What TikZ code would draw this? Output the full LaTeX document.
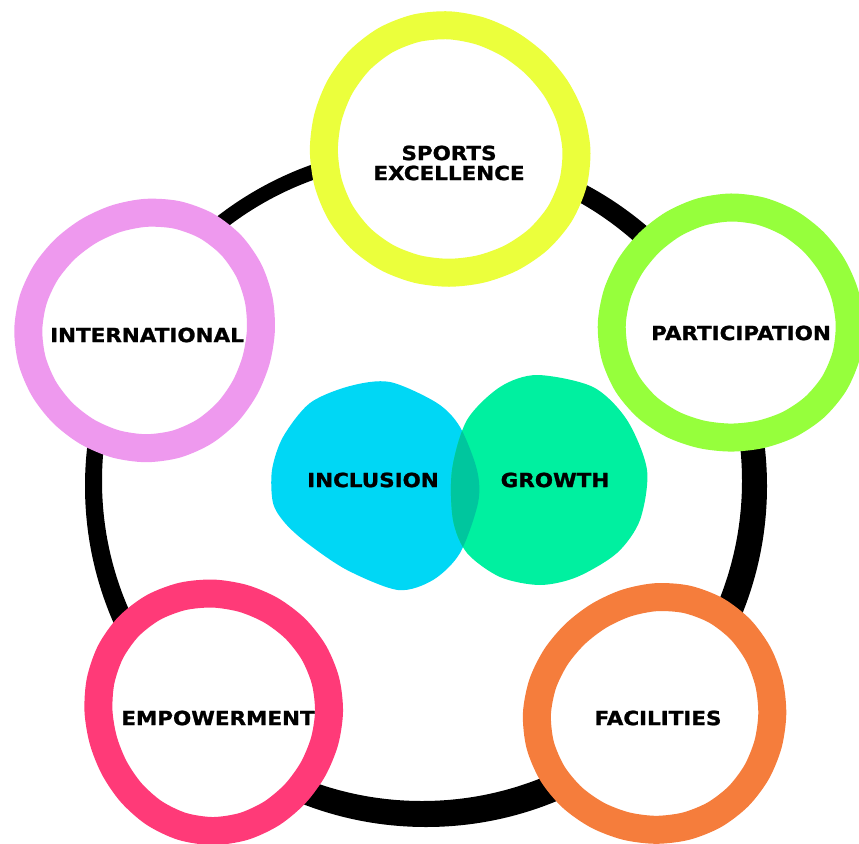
\documentclass[tikz,border=0pt]{standalone}
\usepackage{fontspec}
\setmainfont{DejaVu Sans}
\newfontfamily\labelfont[FakeStretch=1.1, FakeBold=1.2]{DejaVu Sans Bold}
\usepackage{tikz}
\usetikzlibrary{positioning, calc}
\definecolor{excel}{RGB}{235,255,60}
\definecolor{partic}{RGB}{150,255,60}
\definecolor{intl}{RGB}{238,153,238}
\definecolor{empow}{RGB}{255,58,120}
\definecolor{facil}{RGB}{245,125,60}
\definecolor{inclc}{RGB}{0,215,245}
\definecolor{growc}{RGB}{0,240,160}
\definecolor{overlap}{RGB}{0,198,158}
\tikzset{
  pillar/.style={draw=#1, line width=28pt, fill=white},
  label/.style={font=\labelfont\fontsize{19.5}{20}\selectfont, align=center, inner sep=0pt}
}
% wobbly ring: centre, radius, phase
\newcommand\wobblering[4]{%
  \draw[pillar=#4, shift={(#1)}] plot[smooth cycle, domain=0:345, samples=24, variable=\a]
    (\a:{#2+2*sin(2*\a+#3)+1.5*cos(3*\a-#3)});}
\begin{document}
\begin{tikzpicture}[x=1pt, y=-1pt]
  \useasboundingbox (0,0) rectangle (859,843);
  % outer ring
  \fill[black, even odd rule] (426,486) circle (341) (422,481) circle (320);

  \coordinate (sportsc) at (449,150);
  \coordinate (particc) at (731,324);
  \coordinate (intlc) at (146,330);
  \coordinate (empowc) at (213,711);
  \coordinate (facilc) at (656,714);

  \wobblering{sportsc}{125}{40}{excel}
  \wobblering{particc}{117}{100}{partic}
  \wobblering{intlc}{117}{200}{intl}
  \wobblering{empowc}{117}{300}{empow}
  \wobblering{facilc}{117}{160}{facil}

  \node[label] (sports) at ($(sportsc)+(0,13)$) {SPORTS\\EXCELLENCE};
  \node[label] (particip) at ($(particc)+(10,9)$) {PARTICIPATION};
  \node[label] (intl) at ($(intlc)+(1,5)$) {INTERNATIONAL};
  \node[label] (empow) at ($(empowc)+(5,7)$) {EMPOWERMENT};
  \node[label] (facil) at ($(facilc)+(2,4)$) {FACILITIES};

  % centre blobs
  \def\inclpath{plot[smooth cycle] coordinates {(390,382) (437,403) (460,427) (477,470)
    (478,503) (460,553) (433,580) (398,590) (347,570) (307,543) (285,523) (273,503)
    (272,470) (283,437) (310,403) (350,386)}}
  \def\growpath{plot[smooth cycle] coordinates {(537,375) (593,387) (627,420) (647,470)
    (640,520) (617,553) (577,577) (540,585) (500,577) (467,553) (453,520) (452,470)
    (467,420) (500,387)}}
  \fill[inclc] \inclpath;
  \fill[growc] \growpath;
  \begin{scope}
    \clip \inclpath;
    \fill[overlap] \growpath;
  \end{scope}
  \node[label] (incl) at (373,480) {INCLUSION};
  \node[label] (grow) at (555,480) {GROWTH};
\end{tikzpicture}
\end{document}
